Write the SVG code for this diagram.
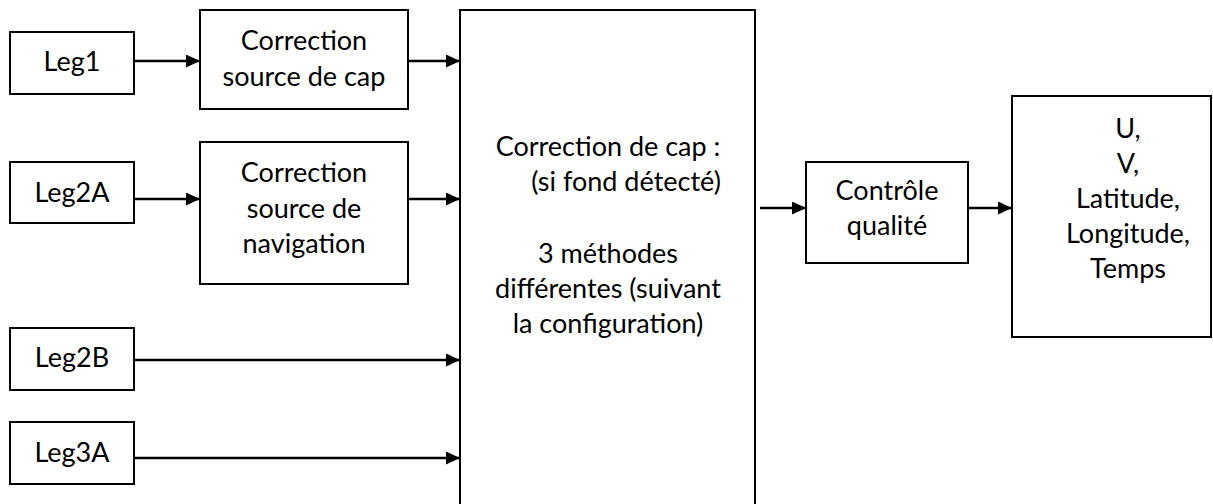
<svg xmlns="http://www.w3.org/2000/svg" width="1213" height="504" viewBox="0 0 1213 504">
<style>
.box{fill:#fff;stroke:#000;stroke-width:2}
.t{font-family:Lato,"Open Sans",sans-serif;font-size:27px;fill:#000;text-anchor:middle}
.c{stroke:#000;stroke-width:2.5;fill:none;marker-end:url(#ah)}
</style>
<defs>
<marker id="ah" markerUnits="userSpaceOnUse" markerWidth="15" markerHeight="13" refX="14" refY="6.5" orient="auto">
<path d="M0,0 L14,6.5 L0,13 z" fill="#000"/>
</marker>
</defs>
<rect width="1213" height="504" fill="#fff"/>
<g id="connectors">
<line class="c" x1="134" y1="61" x2="200" y2="61"/>
<line class="c" x1="408" y1="61" x2="460" y2="61"/>
<line class="c" x1="134" y1="199" x2="200" y2="199"/>
<line class="c" x1="408" y1="199" x2="460" y2="199"/>
<line class="c" x1="134" y1="360" x2="460" y2="360"/>
<line class="c" x1="134" y1="458" x2="460" y2="458"/>
<line class="c" x1="760" y1="208" x2="806" y2="208"/>
<line class="c" x1="968" y1="208" x2="1012" y2="208"/>
</g>
<g id="leg1"><rect class="box" x="10" y="32" width="124" height="62"/><text class="t" x="72" y="71">Leg1</text></g>
<g id="leg2a"><rect class="box" x="10" y="162" width="124" height="61"/><text class="t" x="72" y="202">Leg2A</text></g>
<g id="leg2b"><rect class="box" x="10" y="328" width="124" height="62"/><text class="t" x="72" y="367">Leg2B</text></g>
<g id="leg3a"><rect class="box" x="10" y="422" width="124" height="62"/><text class="t" x="72" y="462">Leg3A</text></g>
<g id="corr-cap"><rect class="box" x="200" y="10" width="208" height="99"/><text class="t" x="304" y="50">Correction</text><text class="t" x="304" y="86">source de cap</text></g>
<g id="corr-nav"><rect class="box" x="200" y="142" width="208" height="142"/><text class="t" x="304" y="182">Correction</text><text class="t" x="304" y="218">source de</text><text class="t" x="304" y="253">navigation</text></g>
<g id="corr-main"><rect class="box" x="460" y="10" width="295" height="510"/>
<text class="t" x="608" y="156">Correction de cap :</text>
<text class="t" x="626" y="191">(si fond détecté)</text>
<text class="t" x="608" y="263">3 méthodes</text>
<text class="t" x="608" y="298">différentes (suivant</text>
<text class="t" x="608" y="333">la configuration)</text>
</g>
<g id="qc"><rect class="box" x="806" y="162" width="162" height="101"/><text class="t" x="887" y="200">Contrôle</text><text class="t" x="887" y="235">qualité</text></g>
<g id="output"><rect class="box" x="1012" y="96" width="199" height="241"/>
<text class="t" x="1128" y="138">U,</text>
<text class="t" x="1128" y="173">V,</text>
<text class="t" x="1128" y="208">Latitude,</text>
<text class="t" x="1128" y="243">Longitude,</text>
<text class="t" x="1128" y="278">Temps</text>
</g>
</svg>
